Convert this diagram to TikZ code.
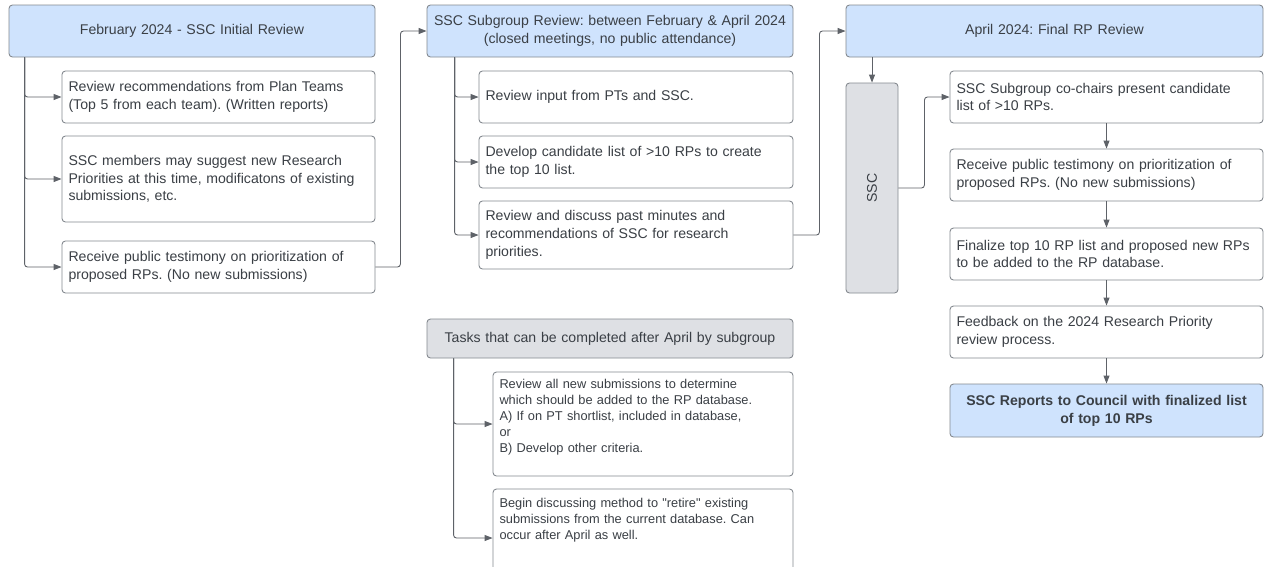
\documentclass[tikz,border=0pt]{standalone}
\usepackage{fontspec}
\usepackage{graphicx}
\setmainfont{Liberation Sans}[Ligatures=TeXOff]
\usetikzlibrary{arrows.meta}
\definecolor{bluef}{HTML}{CFE3FD}
\definecolor{grayf}{HTML}{DEE0E4}
\definecolor{bordc}{HTML}{858A90}
\definecolor{txtc}{HTML}{3A3F45}
\definecolor{linec}{HTML}{5E6268}
\newcommand\fsmain{\fontsize{14.1}{17.7}\selectfont}
\newcommand\fssmall{\fontsize{12.8}{15.9}\selectfont}
\frenchspacing
\tikzset{
  box/.style={draw=bordc, line width=0.9pt, rounded corners=3.5pt, fill=white,
    text=txtc, font=\fsmain, align=left, inner xsep=6.5pt, inner ysep=0pt},
  hbox/.style={box, fill=bluef, align=center, inner xsep=2pt},
  gbox/.style={box, fill=grayf, align=center, inner xsep=2pt},
  conn/.style={draw=linec, line width=0.9pt, rounded corners=3pt,
    -{Triangle[length=8pt,width=6pt]}}
}
\begin{document}
\begin{tikzpicture}[x=1pt,y=-1pt]
\useasboundingbox (0,0) rectangle (1265,566);
\clip (0,0) rectangle (1265,566);
\fill[white] (0,0) rectangle (1265,566);
% column 1
\node[hbox, text width=362pt, minimum height=52pt] (H1) at (192,31) {February 2024 - SSC Initial Review};
\node[box, text width=300pt, minimum height=52pt] (B1a) at (218.5,97) {Review recommendations from Plan Teams\\(Top 5 from each team). (Written reports)};
\node[box, text width=300pt, minimum height=86pt] (B1b) at (218.5,179) {SSC members may suggest new Research\\Priorities at this time, modificatons of existing\\submissions, etc.};
\node[box, text width=300pt, minimum height=52pt] (B1c) at (218.5,267) {Receive public testimony on prioritization of\\proposed RPs. (No new submissions)};
% column 2
\node[hbox, text width=362pt, minimum height=52pt] (H2) at (610,31) {SSC Subgroup Review: between February \& April 2024\\(closed meetings, no public attendance)};
\node[box, text width=301pt, minimum height=52pt] (B2a) at (636,97) {Review input from PTs and SSC.};
\node[box, text width=301pt, minimum height=52pt] (B2b) at (636,162) {Develop candidate list of >10 RPs to create\\the top 10 list.};
\node[box, text width=301pt, minimum height=68pt] (B2c) at (636,235) {Review and discuss past minutes and\\recommendations of SSC for research\\priorities.};
% column 3
\node[hbox, text width=413pt, minimum height=52pt] (H3) at (1054.5,31) {April 2024: Final RP Review};
\node[gbox, minimum width=52pt, minimum height=210pt, inner xsep=0pt] (SSC) at (872,188) {\rotatebox{90}{SSC}};
\node[box, text width=300pt, minimum height=52pt] (B3a) at (1106.5,97) {SSC Subgroup co-chairs present candidate\\list of >10 RPs.};
\node[box, text width=300pt, minimum height=52pt] (B3b) at (1106.5,175) {Receive public testimony on prioritization of\\proposed RPs. (No new submissions)};
\node[box, text width=300pt, minimum height=52pt] (B3c) at (1106.5,254) {Finalize top 10 RP list and proposed new RPs\\to be added to the RP database.};
\node[box, text width=300pt, minimum height=52pt] (B3d) at (1106.5,332) {Feedback on the 2024 Research Priority\\review process.};
\node[hbox, text width=309pt, minimum height=53pt, font=\fsmain\bfseries] (B3e) at (1106.5,410.5) {SSC Reports to Council with finalized list\\of top 10 RPs};
% after April
\node[gbox, text width=362pt, minimum height=39pt] (H4) at (610,338.5) {Tasks that can be completed after April by subgroup};
\node[box, text width=287pt, minimum height=104pt, font=\fssmall] (B4a) at (643,424) {Review all new submissions to determine\\which should be added to the RP database.\\A) If on PT shortlist, included in database,\\or\\B) Develop other criteria.\\ \mbox{}};
\node[box, text width=287pt, minimum height=82pt, font=\fssmall] (B4b) at (643,530) {Begin discussing method to "retire" existing\\submissions from the current database. Can\\occur after April as well.\\[6pt] \mbox{}};
% connectors column 1
\draw[conn] ([xshift=16pt]H1.south west) |- (B1a.west);
\draw[conn] ([xshift=16pt]H1.south west) |- (B1b.west);
\draw[conn] ([xshift=16pt]H1.south west) |- (B1c.west);
\draw[conn] (B1c.east) -- ++(25,0) |- (H2.west);
% connectors column 2
\draw[conn] ([xshift=28pt]H2.south west) |- (B2a.west);
\draw[conn] ([xshift=28pt]H2.south west) |- (B2b.west);
\draw[conn] ([xshift=28pt]H2.south west) |- (B2c.west);
\draw[conn] (B2c.east) -- ++(26,0) |- (H3.west);
% connectors column 3
\draw[conn] (SSC.north |- H3.south) -- (SSC.north);
\draw[conn] (SSC.east) -- ++(26,0) |- (B3a.west);
\draw[conn] (B3a) -- (B3b);
\draw[conn] (B3b) -- (B3c);
\draw[conn] (B3c) -- (B3d);
\draw[conn] (B3d) -- (B3e);
% connectors after April
\draw[conn] ([xshift=27pt]H4.south west) |- (B4a.west);
\draw[conn] ([xshift=27pt]H4.south west) |- ([yshift=-8pt]B4b.west);
\end{tikzpicture}
\end{document}
